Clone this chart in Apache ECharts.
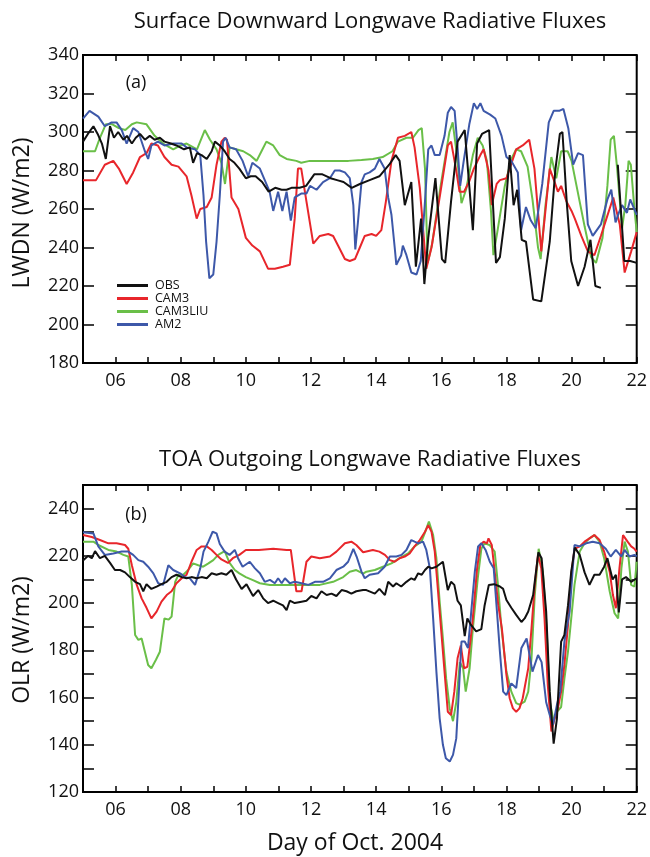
<!DOCTYPE html>
<html>
<head>
<meta charset="utf-8">
<title>Longwave Radiative Fluxes, Oct. 2004</title>
<script src="https://cdn.jsdelivr.net/npm/echarts@6/dist/echarts.min.js"></script>
<style>
  html, body { margin: 0; padding: 0; background: #ffffff; }
  #chart { width: 650px; height: 857px; }
</style>
</head>
<body>
<div id="chart"></div>
<script>
// ---- data: [day of Oct. 2004, flux W/m2] ----
// Panel (a): surface downward longwave
const lwdnObs = [[5.00,295],[5.15,299],[5.32,303],[5.45,299],[5.58,294],[5.70,286],[5.83,303],[5.95,297],[6.08,300],[6.24,296],[6.35,298],[6.50,294],[6.62,297],[6.75,299],[6.90,296],[7.05,298],[7.20,296],[7.36,297],[7.50,295],[7.70,294],[7.87,293],[8.10,291],[8.28,292],[8.38,284],[8.50,289],[8.64,288],[8.80,286],[8.95,290],[9.05,295],[9.20,293],[9.35,290],[9.50,286],[9.65,284],[9.80,281],[10.00,276],[10.15,277],[10.30,277],[10.50,274],[10.70,269],[10.90,271],[11.10,270],[11.25,270],[11.40,271],[11.65,271],[11.85,272],[12.10,278],[12.35,278],[12.60,276],[12.80,275],[13.00,274],[13.25,271],[13.50,273],[13.80,275],[14.10,277],[14.40,283],[14.60,288],[14.72,285],[14.88,262],[15.08,274],[15.22,230],[15.38,255],[15.48,221],[15.60,245],[15.82,276],[16.02,234],[16.12,232],[16.30,264],[16.50,295],[16.72,301],[16.97,249],[17.10,294],[17.25,299],[17.47,301],[17.68,232],[17.80,235],[17.95,255],[18.10,288],[18.22,262],[18.33,270],[18.47,244],[18.60,243],[18.82,213],[19.07,212],[19.33,243],[19.50,280],[19.64,299],[19.72,300],[19.85,264],[19.99,233],[20.20,220],[20.40,230],[20.58,244],[20.73,220],[20.90,219],[21.10,null],[21.42,283],[21.62,233],[21.80,233],[22.00,232]];
const lwdnCam3 = [[5.00,275],[5.40,275],[5.67,283],[5.93,285],[6.10,281],[6.34,273],[6.54,279],[6.75,287],[6.95,289],[7.10,294],[7.30,293],[7.50,287],[7.72,283],[7.93,282],[8.18,277],[8.33,267],[8.49,255],[8.60,260],[8.80,261],[8.95,266],[9.10,283],[9.25,295],[9.35,297],[9.42,296],[9.56,266],[9.77,260],[10.00,245],[10.20,241],[10.43,238],[10.68,229],[10.89,229],[11.14,230],[11.35,231],[11.50,255],[11.60,281],[11.70,281],[11.86,264],[12.07,242],[12.27,246],[12.53,247],[12.68,246],[12.83,241],[13.04,234],[13.19,233],[13.35,234],[13.50,240],[13.65,246],[13.86,247],[14.00,246],[14.16,249],[14.30,264],[14.47,285],[14.67,297],[14.88,298],[15.08,300],[15.18,292],[15.34,271],[15.54,229],[15.70,240],[15.95,266],[16.20,293],[16.30,295],[16.45,281],[16.56,269],[16.70,269],[16.85,274],[17.00,281],[17.20,288],[17.30,291],[17.45,280],[17.55,262],[17.70,273],[17.80,275],[18.00,276],[18.30,291],[18.50,293],[18.70,296],[18.86,281],[19.07,238],[19.33,281],[19.48,274],[19.58,269],[19.68,272],[19.84,264],[20.00,259],[20.10,255],[20.30,246],[20.50,238],[20.70,236],[20.90,246],[21.07,255],[21.28,266],[21.48,252],[21.63,227],[21.83,238],[22.00,248]];
const lwdnLiu = [[5.00,290],[5.37,290],[5.52,297],[5.70,304],[5.90,304],[6.10,302],[6.30,301],[6.50,304],[6.65,305],[6.95,304],[7.20,298],[7.46,294],[7.77,291],[8.00,293],[8.18,294],[8.50,291],[8.74,301],[8.90,296],[9.10,291],[9.25,284],[9.36,273],[9.50,292],[9.70,291],[9.92,290],[10.12,288],[10.33,285],[10.48,290],[10.63,295],[10.84,293],[11.04,288],[11.25,286],[11.55,285],[11.70,284],[11.96,285],[12.40,285],[12.75,285],[13.15,285],[13.55,285.5],[13.90,286],[14.20,287],[14.50,290],[14.67,295],[14.93,297],[15.13,297],[15.30,301],[15.40,302],[15.50,281],[15.58,232],[15.72,242],[15.98,272],[16.25,300],[16.35,305],[16.48,288],[16.62,263],[16.76,270],[16.97,288],[17.12,297],[17.27,293],[17.40,285],[17.53,258],[17.60,236],[17.72,248],[17.95,272],[18.15,286],[18.30,291],[18.45,290],[18.65,282],[18.80,265],[18.97,240],[19.05,234],[19.20,262],[19.38,287],[19.53,276],[19.68,290],[19.88,290],[20.00,285],[20.20,268],[20.40,251],[20.60,235],[20.75,232],[20.95,245],[21.10,272],[21.20,296],[21.30,298],[21.40,281],[21.55,250],[21.65,262],[21.75,285],[21.82,283],[21.92,262],[22.00,248]];
const lwdnAm2 = [[5.00,307],[5.20,311],[5.47,308],[5.67,303],[5.88,305],[6.03,305],[6.19,301],[6.34,294],[6.54,302],[6.70,300],[6.90,290],[7.00,286],[7.10,293],[7.30,295],[7.50,293],[7.77,294],[8.03,294],[8.18,292],[8.44,291],[8.60,288],[8.70,267],[8.78,243],[8.88,224],[9.00,226],[9.10,243],[9.20,267],[9.30,295],[9.38,297],[9.50,292],[9.70,291],[9.90,285],[10.07,277],[10.20,284],[10.43,281],[10.73,269],[10.84,259],[10.99,269],[11.12,259],[11.25,269],[11.38,254],[11.50,266],[11.70,268],[11.86,268],[11.97,272],[12.17,270],[12.37,274],[12.58,276],[12.73,280],[12.88,280],[13.04,279],[13.19,276],[13.30,262],[13.36,239],[13.44,253],[13.55,274],[13.65,278],[13.80,279],[13.96,281],[14.10,286],[14.26,281],[14.37,266],[14.47,257],[14.57,240],[14.62,231],[14.77,236],[14.82,241],[14.93,236],[15.08,227],[15.24,226],[15.37,233],[15.50,264],[15.60,291],[15.70,293],[15.80,288],[15.95,288],[16.10,298],[16.20,310],[16.30,313],[16.41,311],[16.50,292],[16.58,272],[16.68,284],[16.86,304],[17.00,315],[17.10,312],[17.20,315],[17.30,311],[17.50,309],[17.66,307],[17.85,298],[18.00,287],[18.15,285],[18.35,279],[18.45,249],[18.60,261],[18.75,254],[18.90,250],[19.10,273],[19.30,305],[19.45,311],[19.62,311],[19.75,312],[19.90,302],[20.05,283],[20.20,289],[20.35,288],[20.50,252],[20.65,246],[20.90,252],[21.10,265],[21.22,270],[21.35,253],[21.45,258],[21.55,262],[21.70,258],[21.80,265],[22.00,257]];

// Panel (b): TOA outgoing longwave
const olrObs = [[5.00,218],[5.16,220],[5.27,219],[5.37,222],[5.52,219],[5.67,220],[5.83,217],[5.98,214],[6.14,214],[6.29,213],[6.44,211],[6.60,209],[6.75,208],[6.85,205],[6.95,208],[7.10,206],[7.26,207],[7.41,208],[7.57,209],[7.72,211],[7.87,212],[8.03,211],[8.18,210.5],[8.33,211],[8.49,210.5],[8.64,211],[8.80,210.5],[8.95,212.6],[9.10,212],[9.25,212.6],[9.40,212],[9.56,214],[9.70,210],[9.87,206],[10.02,208],[10.22,203],[10.38,205.5],[10.53,202],[10.68,200],[10.84,201],[10.99,200],[11.14,199],[11.25,197],[11.35,201],[11.50,200],[11.71,200.6],[11.86,201],[12.01,203],[12.17,202],[12.32,205],[12.48,203.4],[12.63,204],[12.78,203],[12.94,205.5],[13.09,205],[13.24,204],[13.39,205],[13.60,205.5],[13.70,205.5],[13.96,204],[14.10,206],[14.27,203.4],[14.37,209],[14.52,207],[14.62,208.4],[14.77,207],[14.93,209],[15.08,210.5],[15.18,209.8],[15.29,212.6],[15.40,212],[15.50,214],[15.60,215.4],[15.70,214.7],[15.85,215.4],[16.05,217.5],[16.20,205.5],[16.30,209],[16.40,207.7],[16.50,201],[16.60,199],[16.72,186],[16.80,193.5],[16.90,191],[17.07,188],[17.23,189],[17.33,199],[17.46,207.7],[17.62,208],[17.80,207],[17.90,206],[18.00,201.3],[18.15,198],[18.30,195],[18.46,192],[18.56,193.5],[18.67,196.4],[18.82,203.4],[18.98,221.5],[19.08,219],[19.22,196.4],[19.33,162.5],[19.45,140.5],[19.55,151],[19.68,183.7],[19.78,186.5],[19.89,199],[19.99,213.3],[20.10,223.5],[20.25,220.4],[20.40,213],[20.55,207.7],[20.70,212],[20.86,212],[21.00,215.4],[21.10,219],[21.26,210],[21.36,212],[21.45,196],[21.55,210],[21.67,211],[21.83,209],[22.00,210.5]];
const olrCam3 = [[5.00,228.8],[5.27,228],[5.52,226.7],[5.78,225.3],[6.03,225.3],[6.29,224.6],[6.39,223],[6.50,216],[6.65,207.7],[6.80,202],[6.95,198],[7.10,193.5],[7.26,196.4],[7.41,200.6],[7.57,203.4],[7.72,205],[7.87,208.4],[8.03,210.5],[8.18,212],[8.33,217.5],[8.49,222.5],[8.64,224],[8.80,224],[8.95,222.5],[9.10,220.4],[9.25,218.5],[9.45,217],[9.60,219],[9.80,220.4],[10.00,222.5],[10.40,222.5],[10.84,223],[11.25,222.5],[11.38,222.5],[11.55,205],[11.71,205],[11.86,217.5],[12.01,219.7],[12.27,219],[12.58,219.7],[12.78,221.8],[13.04,225.3],[13.24,226],[13.39,224.6],[13.60,221.5],[13.90,222.5],[14.10,221.8],[14.27,220.4],[14.42,218.2],[14.57,217.5],[14.72,219],[14.88,219.7],[15.03,221],[15.18,224],[15.34,226.7],[15.50,230.2],[15.60,233],[15.70,230.2],[15.80,221.8],[15.90,205],[16.00,188],[16.10,171],[16.20,154],[16.30,152.6],[16.40,162.5],[16.50,176.6],[16.60,182],[16.70,172.4],[16.80,173],[16.95,190.7],[17.10,214.7],[17.20,224.6],[17.30,226],[17.40,225.3],[17.45,227.4],[17.55,224.6],[17.65,212],[17.75,199],[17.86,189.3],[18.00,169.6],[18.10,159.7],[18.20,155.4],[18.30,154],[18.40,155.4],[18.50,159.7],[18.67,172.4],[18.77,189.3],[18.87,207.7],[18.97,220.4],[19.07,214.7],[19.17,193.5],[19.27,165.3],[19.38,145.6],[19.48,151.2],[19.58,155.4],[19.68,162.5],[19.78,173.8],[19.89,190.7],[19.99,212],[20.09,223],[20.25,224],[20.40,226],[20.55,227.4],[20.70,228.8],[20.86,226.7],[21.00,221.8],[21.17,213.3],[21.27,203.4],[21.36,197.8],[21.47,214.7],[21.58,228.8],[21.72,226],[21.83,224],[21.93,223],[22.00,221.8]];
const olrLiu = [[5.00,226],[5.32,226],[5.47,224.6],[5.78,222.5],[6.03,221.8],[6.24,220.4],[6.39,219.7],[6.50,207.7],[6.60,186.5],[6.70,184.4],[6.80,185],[6.90,179.4],[7.00,173.8],[7.10,172.4],[7.24,176],[7.36,179.4],[7.50,193.5],[7.63,193],[7.72,194.3],[7.83,209],[7.93,212],[8.08,212],[8.23,214],[8.38,216.8],[8.54,216],[8.69,215.4],[8.85,216.8],[9.00,218.2],[9.15,220.4],[9.35,222],[9.50,217],[9.66,214],[9.80,212.6],[10.00,211],[10.20,209.8],[10.43,208.4],[10.74,207.7],[11.25,207.7],[11.76,207.7],[12.27,207.7],[12.68,209],[12.99,211],[13.19,213.3],[13.39,214],[13.60,212.5],[13.70,213.3],[13.96,214],[14.21,215.4],[14.47,216.8],[14.72,219],[14.98,221],[15.18,224],[15.39,226],[15.49,229.5],[15.62,234.5],[15.75,228.8],[15.85,219],[15.95,200.6],[16.05,185],[16.15,168],[16.26,155.4],[16.36,150],[16.46,158],[16.57,175],[16.67,172.4],[16.75,162.5],[16.87,172.4],[16.97,189.3],[17.12,210.5],[17.23,223],[17.33,225.3],[17.48,224.6],[17.64,221.8],[17.74,207.7],[17.84,190.7],[17.94,178],[18.00,171],[18.15,162.5],[18.30,157.6],[18.40,157],[18.56,158.3],[18.67,162.5],[18.77,176.6],[18.87,203.4],[18.99,223],[19.12,213.3],[19.23,190.7],[19.33,158.3],[19.45,150],[19.55,154],[19.68,156],[19.78,168],[19.89,179.4],[19.99,193.5],[20.09,207.7],[20.25,221.8],[20.40,225.3],[20.55,227.4],[20.70,228.8],[20.86,226],[21.00,219],[21.17,205],[21.32,195.7],[21.43,193.5],[21.53,214.7],[21.63,226],[21.73,221.8],[21.83,207.7],[21.93,207],[22.00,217.5]];
const olrAm2 = [[5.00,230],[5.32,229.5],[5.47,224],[5.67,220.4],[5.93,221],[6.19,221.8],[6.39,221.8],[6.54,220.4],[6.70,218.2],[6.85,217.5],[7.00,215.4],[7.16,212.6],[7.31,208.4],[7.46,207.7],[7.62,216],[7.77,214],[7.98,212.6],[8.13,211],[8.28,210.5],[8.44,207.7],[8.60,214.7],[8.70,221.8],[8.85,226],[8.98,230.2],[9.10,229.5],[9.20,225],[9.35,221.8],[9.50,220.4],[9.66,222.5],[9.76,219],[9.90,215.4],[10.12,217.5],[10.28,214.7],[10.43,212.6],[10.58,209],[10.74,209.8],[10.89,208.4],[10.99,210.5],[11.10,208.4],[11.20,210.5],[11.35,208.4],[11.50,209],[11.71,208.4],[11.92,207.7],[12.12,209],[12.37,209],[12.58,210.5],[12.78,214],[12.99,215.4],[13.14,217.5],[13.30,223],[13.40,219.7],[13.55,213.3],[13.65,210.5],[13.80,212],[14.06,212.6],[14.26,215.4],[14.42,219.7],[14.62,219.7],[14.78,220.4],[14.93,222.5],[15.08,226.7],[15.18,226],[15.29,225.3],[15.44,226],[15.54,222.5],[15.65,214.7],[15.75,193.5],[15.85,171],[15.95,151.2],[16.05,140],[16.14,134.3],[16.26,132.9],[16.36,135.7],[16.46,142.7],[16.55,165.3],[16.62,183.7],[16.72,183.7],[16.82,181],[16.92,196.4],[17.03,213.3],[17.13,224],[17.23,225.3],[17.36,222.5],[17.49,217.5],[17.61,214.7],[17.71,196.4],[17.80,179.4],[17.90,162.5],[18.00,161],[18.15,166],[18.30,164],[18.46,181],[18.62,185],[18.80,171],[18.97,178],[19.08,175],[19.22,158],[19.33,152.6],[19.43,148.4],[19.55,156.9],[19.65,162.5],[19.78,183.7],[19.94,196.4],[20.09,224.6],[20.25,224],[20.45,225.3],[20.65,226],[20.86,225.3],[21.05,223],[21.20,219.7],[21.36,222.5],[21.53,219.7],[21.63,222.5],[21.78,219.7],[21.93,220.4],[22.00,219.7]];

const seriesNames = ['OBS', 'CAM3', 'CAM3LIU', 'AM2'];
const dayRange = [5, 22];
const lwdnRange = [180, 340];
const olrRange = [120, 250];

// ---- styling ----
const FONT = '"Open Sans", "Noto Sans", sans-serif';
const COLORS = { OBS: '#111111', CAM3: '#e8262b', CAM3LIU: '#6abf48', AM2: '#3d58a9' };

const pad2 = v => (v < 10 ? '0' : '') + v;

function xAxes(gi) {
  const base = {
    gridIndex: gi, type: 'value', min: dayRange[0], max: dayRange[1], interval: 1,
    axisLine: { show: false }, splitLine: { show: false },
    axisTick: { inside: true, length: 6, lineStyle: { color: '#000', width: 1.5 } }
  };
  return [
    Object.assign({}, base, {
      position: 'bottom',
      axisLabel: {
        show: true, showMinLabel: true, showMaxLabel: true, margin: 9,
        fontFamily: FONT, fontSize: 18, color: '#111',
        formatter: v => (v % 2 === 0 ? pad2(v) : '')
      }
    }),
    Object.assign({}, base, { position: 'top', axisLabel: { show: false } })
  ];
}

function yAxes(gi, range, tickStep) {
  const base = {
    gridIndex: gi, type: 'value', min: range[0], max: range[1], interval: tickStep,
    axisLine: { show: false }, splitLine: { show: false },
    axisTick: { inside: true, length: 11, lineStyle: { color: '#000', width: 1.5 } }
  };
  return [
    Object.assign({}, base, {
      position: 'left',
      axisLabel: {
        show: true, margin: 4, fontFamily: FONT, fontSize: 18, color: '#111',
        formatter: v => (v % 20 === 0 ? String(v) : '')
      }
    }),
    Object.assign({}, base, { position: 'right', axisLabel: { show: false } })
  ];
}

function lineSeries(name, data, axisBase) {
  return {
    name: name, type: 'line', data: data,
    xAxisIndex: axisBase, yAxisIndex: axisBase,
    symbol: 'none', showSymbol: false, connectNulls: false, animation: false,
    lineStyle: { width: 2, color: COLORS[name] }, itemStyle: { color: COLORS[name] }
  };
}

const panelA = { OBS: lwdnObs, CAM3: lwdnCam3, CAM3LIU: lwdnLiu, AM2: lwdnAm2 };
const panelB = { OBS: olrObs, CAM3: olrCam3, CAM3LIU: olrLiu, AM2: olrAm2 };
const drawOrder = ['CAM3LIU', 'CAM3', 'AM2', 'OBS'];

const series = [];
drawOrder.forEach(n => series.push(lineSeries(n, panelA[n], 0)));
drawOrder.forEach(n => series.push(lineSeries(n, panelB[n], 2)));

const gridStyle = { show: true, borderColor: '#000', borderWidth: 2, backgroundColor: 'transparent' };

function label(text, x, y, size, rotate) {
  return {
    type: 'text', x: x, y: y, rotation: rotate ? Math.PI / 2 : 0,
    style: { text: text, font: size + 'px ' + FONT, fill: '#111', textAlign: 'center', textVerticalAlign: 'middle' }
  };
}

const option = {
  backgroundColor: '#ffffff',
  animation: false,
  grid: [
    Object.assign({ left: 83, top: 55, width: 554, height: 308 }, gridStyle),
    Object.assign({ left: 83, top: 485, width: 554, height: 307 }, gridStyle)
  ],
  xAxis: [].concat(xAxes(0), xAxes(1)),
  yAxis: [].concat(yAxes(0, lwdnRange, 20), yAxes(1, olrRange, 10)),
  legend: {
    data: seriesNames, orient: 'vertical', left: 117, top: 279,
    icon: 'rect', itemWidth: 31, itemHeight: 3, itemGap: 0, padding: 0,
    selectedMode: false,
    textStyle: { fontFamily: FONT, fontSize: 12.5, lineHeight: 12, color: '#111', padding: [0, 0, 0, 2] }
  },
  graphic: [
    label('Surface Downward Longwave Radiative Fluxes', 370, 22, 22),
    label('TOA Outgoing Longwave Radiative Fluxes', 370, 460, 22),
    label('Day of Oct. 2004', 355, 843, 23),
    label('LWDN (W/m2)', 22, 213, 23, true),
    label('OLR (W/m2)', 22, 640, 23, true),
    label('(a)', 136, 83, 18),
    label('(b)', 136, 515, 18)
  ],
  series: series
};

const chart = echarts.init(document.getElementById('chart'), null, { renderer: 'canvas' });
chart.setOption(option);
</script>
</body>
</html>
